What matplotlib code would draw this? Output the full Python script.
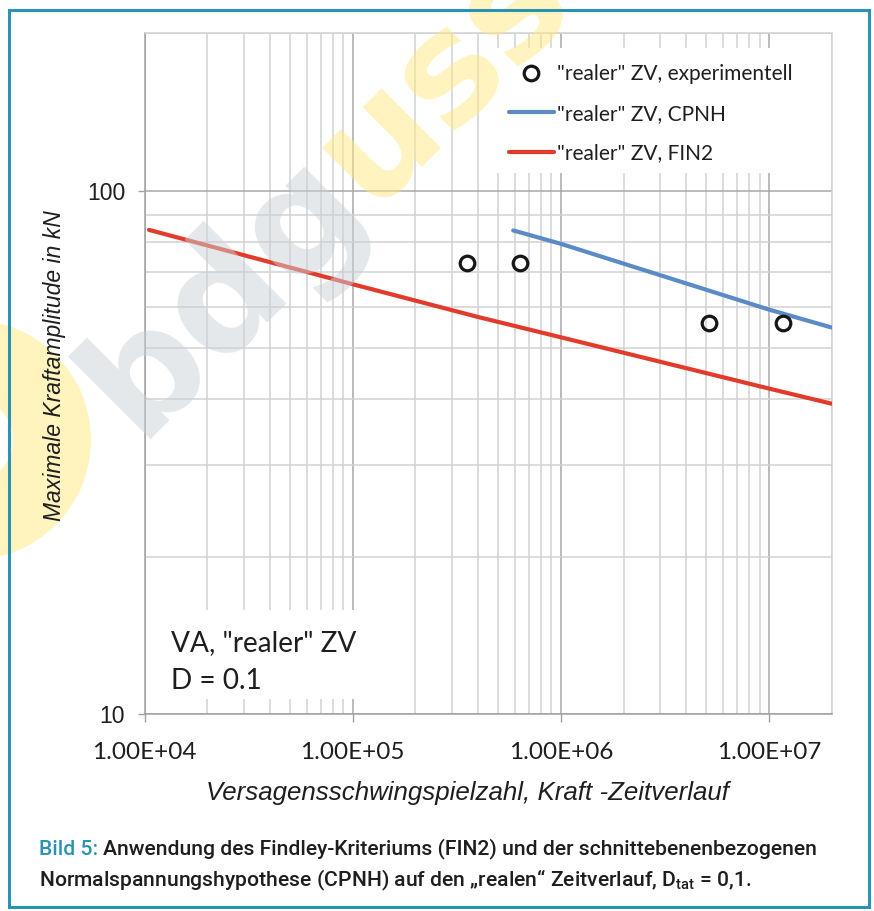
import matplotlib.pyplot as plt
import numpy as np
from matplotlib.ticker import FixedLocator, LogLocator, NullFormatter
from matplotlib.patches import Rectangle, Wedge
from matplotlib.lines import Line2D

# experimental points
x_exp = [3.53e5, 6.37e5, 5.12e6, 1.164e7]
y_exp = [72.8, 72.8, 56.0, 56.0]
# CPNH prediction
x_cpnh = [5.9e5, 1e6, 1e7, 2e7]
y_cpnh = [84.0, 79.2, 59.3, 54.8]
# FIN2 prediction
x_fin2 = [1.05e4, 1e5, 4e5, 1e6, 1e7, 2e7]
y_fin2 = [84.2, 66.3, 57.4, 52.5, 41.9, 39.2]

x_major = [1e4, 1e5, 1e6, 1e7]
x_labels = ['1.00E+04', '1.00E+05', '1.00E+06', '1.00E+07']
y_major = [10, 100]
y_labels = ['10', '100']
y_minor = [20, 30, 40, 50, 60, 70, 80, 90, 200]

labels = ['"realer" ZV, experimentell', '"realer" ZV, CPNH', '"realer" ZV, FIN2']

C_RED = '#e33b2b'
C_BLUE = '#5b8bc7'
C_TEAL = '#2a92b3'
C_TXT = '#1e1e1e'

plt.rcParams['mathtext.fontset'] = 'custom'
plt.rcParams['mathtext.rm'] = 'Roboto:medium'

W, H = 874, 911
fig = plt.figure(figsize=(W / 100, H / 100), dpi=100)
fig.patch.set_facecolor('white')

ax = fig.add_axes([144.6 / W, 1 - 714.3 / H, 687.1 / W, 681.1 / H])
ax.set_xscale('log')
ax.set_yscale('log')
ax.set_xlim(1e4, 2e7)
ax.set_ylim(10, 200)

ax.xaxis.set_major_locator(FixedLocator(x_major))
ax.set_xticklabels(x_labels, family='Lato', fontsize=17.5, color=C_TXT)
ax.xaxis.set_minor_locator(LogLocator(base=10, subs=np.arange(2, 10)))
ax.xaxis.set_minor_formatter(NullFormatter())
ax.yaxis.set_major_locator(FixedLocator(y_major))
ax.set_yticklabels(y_labels, family='Liberation Sans', fontsize=16.5, color=C_TXT)
ax.yaxis.set_minor_locator(FixedLocator(y_minor))
ax.yaxis.set_minor_formatter(NullFormatter())

ax.tick_params(axis='x', which='major', length=6, width=1, color='#a0a0a0', pad=14)
ax.tick_params(axis='y', which='major', length=5, width=1, color='#a0a0a0', pad=9)
ax.tick_params(which='minor', length=0)

ax.set_axisbelow(True)
ax.grid(which='major', color='#a8a8a8', lw=1.1)
ax.grid(which='minor', color='#d2d2d2', lw=1.1)
for s in ['left', 'bottom']:
    ax.spines[s].set_color('#a0a0a0')
    ax.spines[s].set_linewidth(1.1)
for s in ['top', 'right']:
    ax.spines[s].set_color('#d2d2d2')
    ax.spines[s].set_linewidth(1.1)

# white boxes behind legend and annotation
ax.add_patch(Rectangle((0.503, 0.795), 0.495, 0.183, transform=ax.transAxes,
                       facecolor='white', edgecolor='none', zorder=1.5))
ax.add_patch(Rectangle((0.004, 0.0224), 0.382, 0.131, transform=ax.transAxes,
                       facecolor='white', edgecolor='none', zorder=1.5))

ax.plot(x_fin2, y_fin2, color=C_RED, lw=3, solid_capstyle='round', zorder=3)
ax.plot(x_cpnh, y_cpnh, color=C_BLUE, lw=3, solid_capstyle='round', zorder=3)
ax.plot(x_exp, y_exp, ls='none', marker='o', ms=10.5, mfc='none', mec='#161616', mew=2.3, zorder=4)

handles = [Line2D([], [], ls='none', marker='o', ms=10.5, mfc='none', mec='#161616', mew=2.3),
           Line2D([], [], color=C_BLUE, lw=3, solid_capstyle='round'),
           Line2D([], [], color=C_RED, lw=3, solid_capstyle='round')]
ax.legend(handles, labels, loc='upper left', bbox_to_anchor=(0.530, 0.955), frameon=False,
          prop={'family': 'Lato', 'size': 15}, labelcolor=C_TXT, handlelength=2.15,
          handletextpad=0.15, labelspacing=0.95, borderpad=0, borderaxespad=0)

ax.text(0.038, 0.093, 'VA, "realer" ZV', transform=ax.transAxes, family='Lato',
        fontsize=20.2, color=C_TXT, va='baseline', zorder=5)
ax.text(0.038, 0.037, 'D = 0.1', transform=ax.transAxes, family='Lato',
        fontsize=20.2, color=C_TXT, va='baseline', zorder=5)

fig.text(55 / W, 1 - 366 / H, 'Maximale Kraftamplitude in kN', rotation=90, ha='center',
         va='center', family='Liberation Sans', style='italic', fontsize=16.5, color=C_TXT,
         zorder=12)
fig.text(467 / W, 1 - 793 / H, 'Versagensschwingspielzahl, Kraft -Zeitverlauf', ha='center',
         va='center', family='Liberation Sans', style='italic', fontsize=18.6, color=C_TXT)

# caption
cap_kw = dict(family='Roboto', fontsize=15.2, weight='medium', va='baseline')
cap = fig.text(39 / W, 1 - 855 / H, 'Bild 5:', color=C_TEAL, **cap_kw)
ax.annotate('Anwendung des Findley-Kriteriums (FIN2) und der schnittebenenbezogenen',
            xy=(1, 0), xycoords=cap, xytext=(3.5, 0), textcoords='offset points',
            ha='left', va='bottom', family='Roboto', fontsize=15.2, weight='medium',
            color=C_TXT, annotation_clip=False)
fig.text(39 / W, 1 - 886 / H,
         'Normalspannungshypothese (CPNH) auf den \u201erealen\u201c Zeitverlauf, '
         r'$\mathrm{D_{tat}}$ = 0,1.', color=C_TXT, **cap_kw)

# watermark
wm_size = 110
wm_kw = dict(fontsize=wm_size, weight='bold', family='DejaVu Sans', rotation=45,
             rotation_mode='anchor', ha='left', va='baseline', zorder=10)
x0, y0 = 138 / W, 1 - 440 / H
tmp = fig.text(0, 0, 'bdg', fontsize=wm_size, weight='bold', family='DejaVu Sans')
fig.canvas.draw()
wpx = tmp.get_window_extent().width
tmp.remove()
ang = np.deg2rad(45)
fig.text(x0, y0, 'bdg', color='#c9d1d7', alpha=0.5, **wm_kw)
fig.text(x0 + wpx * np.cos(ang) / W, y0 + wpx * np.sin(ang) / H, 'uss',
         color='#ffe97f', alpha=0.5, **wm_kw)
fig.add_artist(Wedge((-29, H - 440), 120, 0, 360, width=78,
                     transform=None, facecolor='#ffe97f', alpha=0.5,
                     edgecolor='none', zorder=10))

# frame
fig.add_artist(Rectangle((8.9, H - 907), 860.5, 907 - 10.4, transform=None,
                         facecolor='none', edgecolor=C_TEAL, lw=2.2, zorder=11))

fig.savefig('out.png', dpi=100, facecolor='white')
